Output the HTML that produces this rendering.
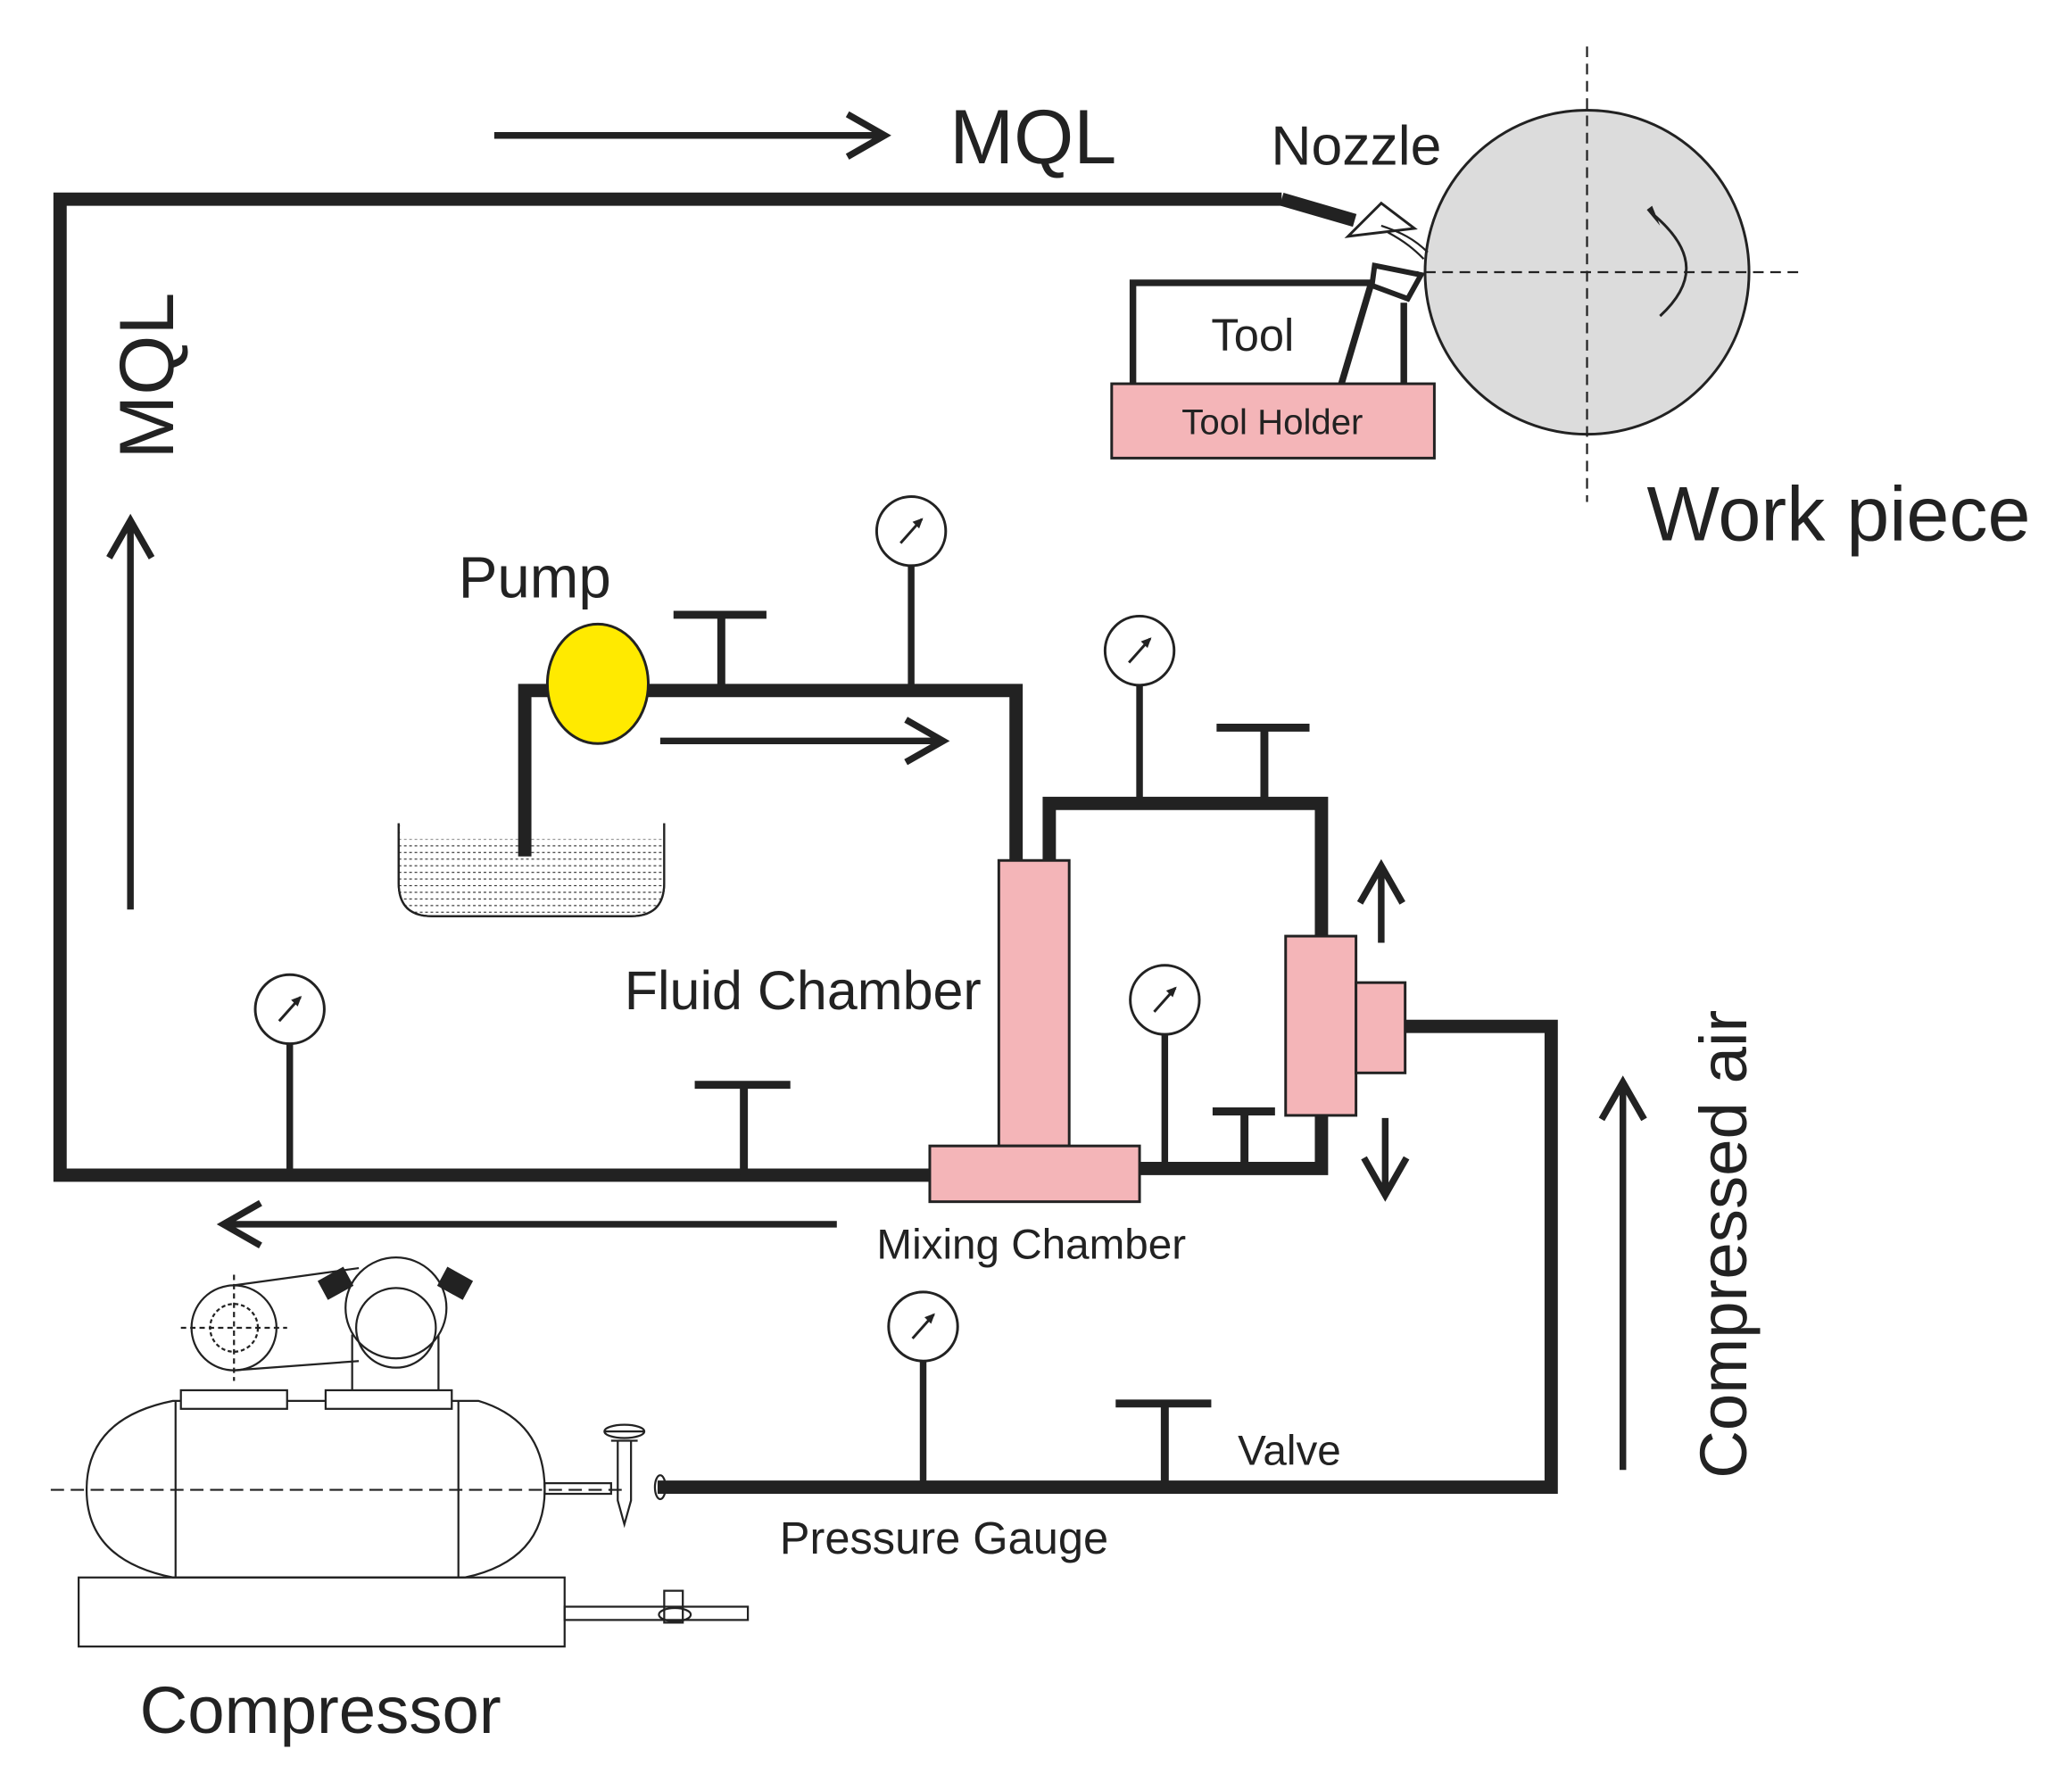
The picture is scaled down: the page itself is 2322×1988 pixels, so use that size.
<!DOCTYPE html>
<html><head><meta charset="utf-8"><style>html,body{margin:0;padding:0;background:#fff}svg{display:block}</style></head><body>
<svg width="2322" height="1988" viewBox="0 0 1560 1336" xmlns="http://www.w3.org/2000/svg" font-family="Liberation Sans, sans-serif" fill="#222">
<defs>
<pattern id="h" width="4" height="5" patternUnits="userSpaceOnUse"><line x1="0" y1="2" x2="2" y2="2" stroke="#333" stroke-width="0.8"/></pattern>
<g id="gauge"><circle r="26" fill="#fff" stroke="#222" stroke-width="2"/><line x1="-8" y1="9" x2="8" y2="-9" stroke="#222" stroke-width="2"/><path d="M9,-10 L1,-7 L6,-2 Z" fill="#222"/></g>
</defs>
<!-- work piece -->
<circle cx="1195" cy="205" r="122" fill="#dcdcdc" stroke="#222" stroke-width="2"/>
<line x1="1195" y1="35" x2="1195" y2="378" stroke="#222" stroke-width="1.5" stroke-dasharray="8,5"/>
<line x1="1060" y1="205" x2="1358" y2="205" stroke="#222" stroke-width="1.5" stroke-dasharray="8,5"/>
<path d="M1243,160 C1280,190 1275,215 1250,238" fill="none" stroke="#222" stroke-width="2"/>
<path d="M1240,158 L1250,170 L1244,155 Z" fill="#222"/>
<!-- tank -->
<path d="M300,620 L300,665 Q300,690 325,690 L475,690 Q500,690 500,665 L500,620" fill="url(#h)" stroke="#222" stroke-width="1.5"/>
<rect x="301" y="620" width="198" height="12" fill="#fff"/>
<path d="M300,620 L300,665 Q300,690 325,690 L475,690 Q500,690 500,665 L500,620" fill="none" stroke="#222" stroke-width="1.5"/>
<g fill="none" stroke="#222" stroke-width="10" stroke-linejoin="miter">
<path d="M965,150 L45,150 L45,885 L700,885"/>
<path d="M965,150 L1020,166"/>
<path d="M765,648 L765,520 L395,520 L395,645"/>
<path d="M858,880 L995,880 L995,840 M995,705 L995,605 L790,605 L790,648"/>
<path d="M1058,773 L1168,773 L1168,1120 L495,1120"/>
</g>
<!-- nozzle -->
<path d="M1015,178 L1040,153 L1065,172 Z" fill="#fff" stroke="#222" stroke-width="2"/>
<path d="M1040,170 C1055,175 1065,180 1075,190 M1045,175 C1058,182 1065,188 1072,195" fill="none" stroke="#222" stroke-width="1.5"/>
<!-- tool -->
<path d="M853,289 L853,213 L1040,213 M1057,289 L1057,228" fill="none" stroke="#222" stroke-width="5"/>
<path d="M1010,289 L1032,215" stroke="#222" stroke-width="5"/>
<path d="M1035,200 L1070,207 L1060,225 L1033,215 Z" fill="#fff" stroke="#222" stroke-width="4"/>
<rect x="837" y="289" width="243" height="56" fill="#f4b5b8" stroke="#222" stroke-width="2"/>
<text x="958" y="327" font-size="27" text-anchor="middle">Tool Holder</text>
<text x="912" y="264" font-size="34">Tool</text>
<ellipse cx="450" cy="515" rx="38" ry="45" fill="#ffea00" stroke="#222" stroke-width="2"/>
<!-- chambers -->
<rect x="752" y="648" width="53" height="215" fill="#f4b5b8" stroke="#222" stroke-width="2"/>
<rect x="700" y="863" width="158" height="42" fill="#f4b5b8" stroke="#222" stroke-width="2"/>
<rect x="968" y="705" width="53" height="135" fill="#f4b5b8" stroke="#222" stroke-width="2"/>
<rect x="1021" y="740" width="37" height="68" fill="#f4b5b8" stroke="#222" stroke-width="2"/>
<!-- valves -->
<g stroke="#222" stroke-width="6" fill="none">
<path d="M507,463 L577,463 M543,463 L543,520"/>
<path d="M916,548 L986,548 M952,548 L952,605"/>
<path d="M913,837 L960,837 M937,837 L937,880"/>
<path d="M523,817 L595,817 M560,817 L560,885"/>
<path d="M840,1057 L912,1057 M877,1057 L877,1120"/>
</g>
<g stroke="#222" stroke-width="5">
<line x1="686" y1="426" x2="686" y2="520"/>
<line x1="858" y1="516" x2="858" y2="605"/>
<line x1="877" y1="779" x2="877" y2="880"/>
<line x1="218" y1="786" x2="218" y2="885"/>
<line x1="695" y1="1025" x2="695" y2="1120"/>
</g>
<use href="#gauge" x="686" y="400"/><use href="#gauge" x="858" y="490"/><use href="#gauge" x="877" y="753"/><use href="#gauge" x="218" y="760"/><use href="#gauge" x="695" y="999"/>
<!-- arrows -->
<g stroke="#222" stroke-width="5" fill="none">
<path d="M372,102 L665,102 M638,86 L666,102 L638,118"/>
<path d="M497,558 L708,558 M682,542 L710,558 L682,574"/>
<path d="M98,685 L98,392 M82,420 L98,392 L114,420"/>
<path d="M630,922 L168,922 M196,906 L168,922 L196,938"/>
<path d="M1222,1107 L1222,815 M1206,843 L1222,815 L1238,843"/>
<path d="M1040,710 L1040,655 M1024,680 L1040,652 L1056,680"/>
<path d="M1043,842 L1043,898 M1027,872 L1043,900 L1059,872"/>
</g>
<!-- compressor -->
<g fill="none" stroke="#222" stroke-width="1.5">
<path d="M130,1055 L360,1055 Q410,1070 410,1122 Q410,1175 350,1188 L130,1188 Q65,1175 65,1122 Q65,1068 130,1055 Z" fill="#fff"/>
<line x1="132" y1="1055" x2="132" y2="1188"/><line x1="345" y1="1055" x2="345" y2="1188"/>
<line x1="38" y1="1122" x2="470" y2="1122" stroke-dasharray="10,5"/>
<rect x="59" y="1188" width="366" height="52"/>
<rect x="425" y="1210" width="138" height="10"/>
<rect x="500" y="1198" width="14" height="24"/><ellipse cx="508" cy="1216" rx="12" ry="5"/>
<rect x="136" y="1047" width="80" height="14" fill="#fff"/><rect x="245" y="1047" width="95" height="14" fill="#fff"/>
<circle cx="176" cy="1000" r="32"/><circle cx="176" cy="1000" r="18" stroke-dasharray="3,2"/>
<line x1="176" y1="960" x2="176" y2="1040" stroke-dasharray="4,3"/><line x1="136" y1="1000" x2="216" y2="1000" stroke-dasharray="4,3"/>
<path d="M176,968 L270,955 M176,1032 L270,1025"/>
<circle cx="298" cy="985" r="38"/><circle cx="298" cy="1000" r="30"/>
<path d="M265,1005 L265,1047 M330,1005 L330,1047"/>
<path d="M240,965 L258,955 L265,968 L247,978 Z" fill="#222"/>
<path d="M355,965 L337,955 L330,968 L348,978 Z" fill="#222"/>
<rect x="410" y="1117" width="50" height="8"/>
<path d="M455,1078 L485,1078 M460,1085 L480,1085 M465,1085 L465,1130 L470,1148 L475,1130 L475,1085"/>
<ellipse cx="470" cy="1078" rx="15" ry="5"/>
<ellipse cx="497" cy="1120" rx="4" ry="9"/>
</g>
<!-- labels -->
<text x="715" y="123" font-size="58">MQL</text>
<text x="957" y="124" font-size="42">Nozzle</text>
<text transform="translate(130,283) rotate(-90)" font-size="58" text-anchor="middle">MQL</text>
<text x="1240" y="407" font-size="58">Work piece</text>
<text x="345" y="450" font-size="44">Pump</text>
<text x="470" y="760" font-size="41">Fluid Chamber</text>
<text x="660" y="948" font-size="32">Mixing Chamber</text>
<text x="932" y="1103" font-size="32">Valve</text>
<text x="587" y="1170" font-size="34">Pressure Gauge</text>
<text x="105" y="1305" font-size="50">Compressor</text>
<text transform="translate(1315,937) rotate(-90)" font-size="50" text-anchor="middle">Compressed air</text>
</svg>
</body></html>
